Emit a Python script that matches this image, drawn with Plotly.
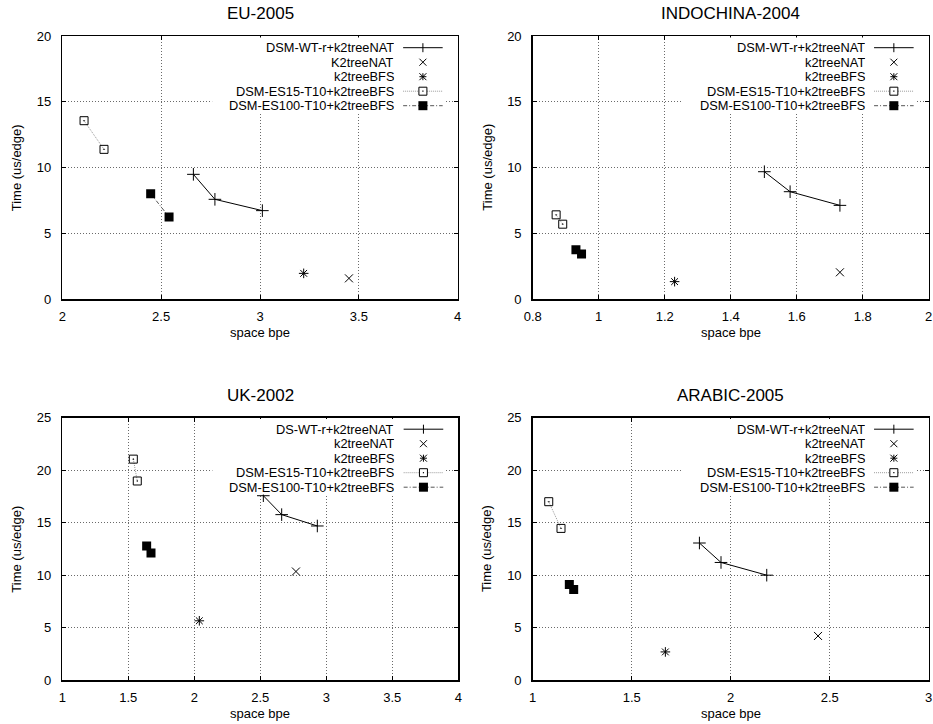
import plotly.graph_objects as go

# ---- benchmark results: space (bits per edge) vs. time (microseconds per edge) ----
panel_titles = ["EU-2005", "INDOCHINA-2004", "UK-2002", "ARABIC-2005"]

# DSM-WT-r + k2treeNAT (three configurations per dataset)
wt_x = [[2.663, 2.772, 3.012], [1.502, 1.580, 1.731], [2.523, 2.662, 2.932], [1.842, 1.951, 2.182]]
wt_y = [[9.48, 7.58, 6.72], [9.68, 8.16, 7.12], [17.56, 15.76, 14.68], [13.06, 11.21, 10.00]]

# k2treeNAT (single point)
nat_x = [3.450, 1.731, 2.770, 2.441]
nat_y = [1.57, 2.03, 10.35, 4.22]

# k2treeBFS (single point)
bfs_x = [3.221, 1.230, 2.038, 1.670]
bfs_y = [1.95, 1.32, 5.66, 2.70]

# DSM-ES15-T10 + k2treeBFS
es15_x = [[2.110, 2.211], [0.871, 0.891], [1.538, 1.568], [1.081, 1.143]]
es15_y = [[13.56, 11.38], [6.40, 5.69], [21.04, 18.96], [16.99, 14.45]]

# DSM-ES100-T10 + k2treeBFS
es100_x = [[2.447, 2.540], [0.931, 0.948], [1.639, 1.672], [1.185, 1.207]]
es100_y = [[8.01, 6.24], [3.74, 3.43], [12.78, 12.12], [9.12, 8.64]]

# axis ranges / ticks
x_ranges = [[2, 4], [0.8, 2], [1, 4], [1, 3]]
x_dticks = [0.5, 0.2, 0.5, 0.5]
y_ranges = [[0, 20], [0, 20], [0, 25], [0, 25]]
y_dticks = [5, 5, 5, 5]

# legend labels per panel
legend_labels = [
    ["DSM-WT-r+k2treeNAT", "K2treeNAT", "k2treeBFS", "DSM-ES15-T10+k2treeBFS", "DSM-ES100-T10+k2treeBFS"],
    ["DSM-WT-r+k2treeNAT", "k2treeNAT", "k2treeBFS", "DSM-ES15-T10+k2treeBFS", "DSM-ES100-T10+k2treeBFS"],
    ["DS-WT-r+k2treeNAT", "k2treeNAT", "k2treeBFS", "DSM-ES15-T10+k2treeBFS", "DSM-ES100-T10+k2treeBFS"],
    ["DSM-WT-r+k2treeNAT", "k2treeNAT", "k2treeBFS", "DSM-ES15-T10+k2treeBFS", "DSM-ES100-T10+k2treeBFS"],
]

# ---- layout geometry (figure 933 x 724 px) ----
W, H = 933, 724
FONT = "Liberation Sans, Arial, Helvetica, sans-serif"
px_x = [(62.3, 457.7), (532.7, 928.7), (62.3, 458.3), (532.7, 928.7)]
px_y = [(36, 299), (36, 299), (417.5, 680.3), (417.5, 680.3)]

GRID = "#6a6a6a"
ES15_LINE = "#9a9a9a"
ES100_LINE = "#555555"
KEY_FONT = 12.8
KEY_STEP = 14.5   # px between key rows

fig = go.Figure()
layout = dict(
    width=W, height=H,
    margin=dict(l=0, r=0, t=0, b=0, autoexpand=False),
    paper_bgcolor="white", plot_bgcolor="white",
    showlegend=False,
    font=dict(family=FONT, size=13, color="black"),
)
annotations = []
shapes = []

for i in range(4):
    n = "" if i == 0 else str(i + 1)
    xa, ya = "x" + n, "y" + n
    xd = [px_x[i][0] / W, px_x[i][1] / W]
    yd = [1 - px_y[i][1] / H, 1 - px_y[i][0] / H]
    axis_common = dict(
        showgrid=True, gridcolor=GRID, griddash="1px,2px", gridwidth=1,
        showline=True, linecolor="black", linewidth=1.5, mirror="ticks",
        ticks="inside", ticklen=4, tickcolor="black", tickwidth=1,
        zeroline=False, tickfont=dict(family=FONT, size=13, color="black"),
        fixedrange=True, automargin=False,
    )
    layout["xaxis" + n] = dict(axis_common, domain=xd, range=x_ranges[i], dtick=x_dticks[i],
                               tick0=x_ranges[i][0], anchor=ya, ticklabelstandoff=5)
    layout["yaxis" + n] = dict(axis_common, domain=yd, range=y_ranges[i], dtick=y_dticks[i],
                               tick0=0, anchor=xa, ticklabelstandoff=7)

    # data series
    fig.add_trace(go.Scatter(x=wt_x[i], y=wt_y[i], xaxis=xa, yaxis=ya, mode="lines+markers",
                             line=dict(color="black", width=1),
                             marker=dict(symbol="cross-thin-open", size=9, color="black",
                                         line=dict(color="black", width=1)),
                             name=legend_labels[i][0]))
    fig.add_trace(go.Scatter(x=[nat_x[i]], y=[nat_y[i]], xaxis=xa, yaxis=ya, mode="markers",
                             marker=dict(symbol="x-thin-open", size=8, color="black",
                                         line=dict(color="black", width=1)),
                             name=legend_labels[i][1]))
    fig.add_trace(go.Scatter(x=[bfs_x[i]], y=[bfs_y[i]], xaxis=xa, yaxis=ya, mode="markers",
                             marker=dict(symbol="asterisk-open", size=8, color="black",
                                         line=dict(color="black", width=1)),
                             name=legend_labels[i][2]))
    fig.add_trace(go.Scatter(x=es15_x[i], y=es15_y[i], xaxis=xa, yaxis=ya, mode="lines+markers",
                             line=dict(color=ES15_LINE, width=1, dash="1px,1px"),
                             marker=dict(symbol="square-open-dot", size=8, color="black",
                                         line=dict(color="black", width=1)),
                             name=legend_labels[i][3]))
    fig.add_trace(go.Scatter(x=es100_x[i], y=es100_y[i], xaxis=xa, yaxis=ya, mode="lines+markers",
                             line=dict(color=ES100_LINE, width=1, dash="4px,2px,1px,2px"),
                             marker=dict(symbol="square", size=9, color="black", line=dict(width=0)),
                             name=legend_labels[i][4]))

    # panel title and axis titles
    cx = (px_x[i][0] + px_x[i][1]) / 2 / W
    cy = 1 - (px_y[i][0] + px_y[i][1]) / 2 / H
    annotations.append(dict(text=panel_titles[i], xref="paper", yref="paper", x=cx,
                            y=1 - (px_y[i][0] - 22.5) / H, xanchor="center", yanchor="middle",
                            showarrow=False, font=dict(size=17, family=FONT, color="black")))
    annotations.append(dict(text="space bpe", xref="paper", yref="paper", x=cx,
                            y=1 - (px_y[i][1] + 33.5) / H, xanchor="center", yanchor="middle",
                            showarrow=False, font=dict(size=13, family=FONT, color="black")))
    annotations.append(dict(text="Time (us/edge)", xref="paper", yref="paper",
                            x=(px_x[i][0] - 45.5) / W, y=cy, xanchor="center", yanchor="middle",
                            textangle=-90, showarrow=False, font=dict(size=13, family=FONT, color="black")))

    # key: right-aligned labels with line/symbol samples on the right
    xr, yr = xa + " domain", ya + " domain"
    pw = px_x[i][1] - px_x[i][0]
    ph = px_y[i][1] - px_y[i][0]
    fx = 1.0 / pw   # one pixel in domain fraction (x)
    fy = 1.0 / ph   # one pixel in domain fraction (y)
    shapes.append(dict(type="rect", xref=xr, yref=yr, x0=0.379, x1=0.968, y0=1 - 77 * fy, y1=0.994,
                       fillcolor="white", line=dict(width=0), layer="above"))
    row_y = [1 - (11.7 + KEY_STEP * k) * fy for k in range(5)]
    sx0, sx1, smid = 0.862, 0.962, 0.912
    for k in range(5):
        annotations.append(dict(text=legend_labels[i][k], xref=xr, yref=yr, x=0.841, y=row_y[k],
                                xanchor="right", yanchor="middle", showarrow=False, height=13,
                                borderpad=0, font=dict(size=KEY_FONT, family=FONT, color="black")))

    def seg(yk, dx0, dy0, dx1, dy1, color="black"):
        return dict(type="line", xref=xr, yref=yr,
                    x0=smid + dx0 * fx, y0=yk + dy0 * fy, x1=smid + dx1 * fx, y1=yk + dy1 * fy,
                    line=dict(color=color, width=1), layer="above")

    def box(yk, half, fill, edge):
        return dict(type="rect", xref=xr, yref=yr,
                    x0=smid - half * fx, x1=smid + half * fx, y0=yk - half * fy, y1=yk + half * fy,
                    fillcolor=fill, line=dict(color=edge, width=1 if edge else 0), layer="above")

    # row 1: solid line with plus
    shapes.append(dict(type="line", xref=xr, yref=yr, x0=sx0, x1=sx1, y0=row_y[0], y1=row_y[0],
                       line=dict(color="black", width=1), layer="above"))
    shapes.append(seg(row_y[0], 0, -4.5, 0, 4.5))
    # row 2: x
    shapes.append(seg(row_y[1], -3.5, -3.5, 3.5, 3.5))
    shapes.append(seg(row_y[1], -3.5, 3.5, 3.5, -3.5))
    # row 3: asterisk
    shapes.append(seg(row_y[2], -3.5, -3.5, 3.5, 3.5))
    shapes.append(seg(row_y[2], -3.5, 3.5, 3.5, -3.5))
    shapes.append(seg(row_y[2], -3.5, 0, 3.5, 0))
    shapes.append(seg(row_y[2], 0, -3.5, 0, 3.5))
    # row 4: dotted line with open square
    shapes.append(dict(type="line", xref=xr, yref=yr, x0=sx0, x1=sx1, y0=row_y[3], y1=row_y[3],
                       line=dict(color=ES15_LINE, width=1, dash="1px,1px"), layer="above"))
    shapes.append(box(row_y[3], 4, "white", "black"))
    shapes.append(box(row_y[3], 0.6, "black", None))
    # row 5: dash-dot line with filled square
    shapes.append(dict(type="line", xref=xr, yref=yr, x0=sx0, x1=sx1, y0=row_y[4], y1=row_y[4],
                       line=dict(color=ES100_LINE, width=1, dash="4px,2px,1px,2px"), layer="above"))
    shapes.append(box(row_y[4], 4.5, "black", None))

layout["annotations"] = annotations
layout["shapes"] = shapes
fig.update_layout(**layout)
fig.write_html("out.html", config={"staticPlot": True})
